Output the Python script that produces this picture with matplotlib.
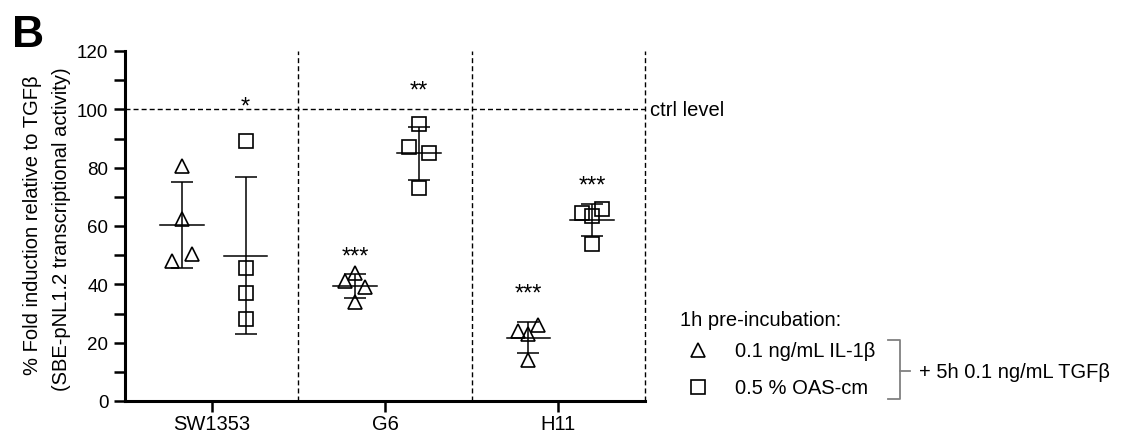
import matplotlib
matplotlib.use("Agg")
import matplotlib.pyplot as plt
from matplotlib.lines import Line2D
import numpy as np

plt.rcParams['font.family'] = ['Liberation Sans', 'DejaVu Sans']
plt.rcParams['lines.scale_dashes'] = False

# data (% of TGFb control)
grupos = ["SW1353", "G6", "H11"]
il1b = [[80.5, 62.5, 48, 50.5], [44, 41, 39, 34], [24, 23, 26, 14]]
oas = [[89, 45.5, 37, 28], [95, 87, 85, 73], [64.5, 63.5, 66, 54]]
estrellas_il1b = ["", "***", "***"]
estrellas_oas = ["*", "**", "***"]
y_estr_il1b = [0, 47.4, 34.8]
y_estr_oas = [98.8, 104.5, 71.7]
ctrl = 100

# horizontal scatter inside each column (style only)
jit_tri = [[0, 0, -1, 1], [0, -1, 1, 0], [-1, 0, 1, 0]]
jit_sq = [[0, 0, 0, 0], [0, -1, 1, 0], [-1, 0, 1, 0]]

W, H = 1126, 435
def fx(x):
    return x / W
def fy(y):
    return 1 - y / H

fig = plt.figure(figsize=(W / 100, H / 100), dpi=100)
ax = fig.add_axes([fx(125), fy(402), (645 - 125) / W, (402 - 52) / H])

lw = 1.1
ms = 10
fs = 14.5
off_tri, off_sq, paso, ancho = -0.173, 0.196, 0.058, 0.126

def columna(x0, vals, jit, marker):
    vals = np.array(vals)
    xs = x0 + np.array(jit) * paso
    ax.plot(xs, vals, linestyle='none', marker=marker, ms=ms, mfc='none',
            mec='black', mew=1.2, clip_on=False, zorder=3)
    m = vals.mean()
    sd = vals.std(ddof=1)
    ax.errorbar([x0], [m], yerr=[sd], fmt='none', ecolor='black', elinewidth=lw,
                capsize=7.8, capthick=lw, zorder=4)
    ax.plot([x0 - ancho, x0 + ancho], [m, m], color='black', lw=lw, zorder=4)

for i in range(len(grupos)):
    columna(i + off_tri, il1b[i], jit_tri[i], '^')
    columna(i + off_sq, oas[i], jit_sq[i], 's')
    if estrellas_il1b[i]:
        ax.text(i + off_tri, y_estr_il1b[i], estrellas_il1b[i], ha='center',
                va='baseline', fontsize=17)
    if estrellas_oas[i]:
        ax.text(i + off_sq, y_estr_oas[i], estrellas_oas[i], ha='center',
                va='baseline', fontsize=17)

# separators and control line
for xv in [0.5, 1.5, 2.5]:
    ax.plot([xv, xv], [0, 120], color='black', lw=1.0, dashes=(3.6, 2.2), zorder=1,
            clip_on=False)
ax.plot([-0.5, 2.5], [ctrl, ctrl], color='black', lw=1.0, dashes=(3.6, 2.2), zorder=1)
fig.text(fx(650), fy(110), "ctrl level", ha='left', va='center', fontsize=fs)

ax.set_xlim(-0.5, 2.5)
ax.set_ylim(0, 120)
ax.set_xticks(range(len(grupos)))
ax.set_xticklabels(grupos)
ax.set_yticks(np.arange(0, 121, 20))
ax.set_yticks(np.arange(10, 120, 20), minor=True)
ax.tick_params(axis='y', which='both', direction='out', length=8, width=1.8,
               labelsize=13.5, pad=4)
ax.tick_params(axis='x', direction='out', length=8, width=1.8, labelsize=fs, pad=1.5)
for s in ['top', 'right']:
    ax.spines[s].set_visible(False)
for s in ['left', 'bottom']:
    ax.spines[s].set_linewidth(2.2)

fig.text(fx(33), fy(225), "% Fold induction relative to TGF\u03b2", rotation=90,
         ha='center', va='center', fontsize=fs)
fig.text(fx(61.5), fy(229), "(SBE-pNL1.2 transcriptional activity)", rotation=90,
         ha='center', va='center', fontsize=fs)
fig.text(fx(12), fy(47), "B", fontsize=32, fontweight='bold', ha='left', va='baseline')

# legend
fig.text(fx(680), fy(321), "1h pre-incubation:", ha='left', va='center', fontsize=fs)
fig.add_artist(Line2D([fx(698)], [fy(351)], marker='^', ms=ms, mfc='none',
                      mec='black', mew=1.2, linestyle='none'))
fig.add_artist(Line2D([fx(698)], [fy(388)], marker='s', ms=ms, mfc='none',
                      mec='black', mew=1.2, linestyle='none'))
fig.text(fx(735), fy(352), "0.1 ng/mL IL-1\u03b2", ha='left', va='center', fontsize=fs)
fig.text(fx(735), fy(388), "0.5 % OAS-cm", ha='left', va='center', fontsize=fs)
gris = '#808080'
fig.add_artist(Line2D([fx(888), fx(900), fx(900), fx(888)],
                      [fy(341), fy(341), fy(400), fy(400)], color=gris, lw=1.3))
fig.add_artist(Line2D([fx(900), fx(910)], [fy(372), fy(372)], color=gris, lw=1.3))
fig.text(fx(919), fy(373), "+ 5h 0.1 ng/mL TGF\u03b2", ha='left', va='center', fontsize=fs)

fig.savefig("out.png", dpi=100)
